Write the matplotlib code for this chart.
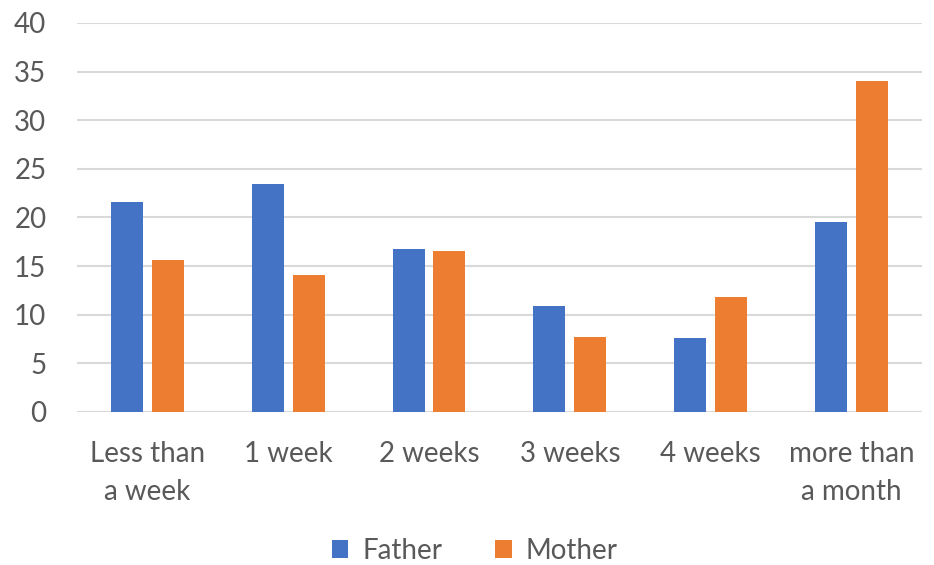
import matplotlib.pyplot as plt
import numpy as np

# Share of responses by duration, per parent
categories = ['Less than\na week', '1 week', '2 weeks', '3 weeks', '4 weeks', 'more than\na month']
father = [21.6, 23.4, 16.8, 10.9, 7.6, 19.5]
mother = [15.6, 14.1, 16.6, 7.7, 11.8, 34.0]
yticks = [0, 5, 10, 15, 20, 25, 30, 35, 40]

plt.rcParams['font.family'] = ['Lato', 'DejaVu Sans']
text_color = '#595959'

fig = plt.figure(figsize=(9.34, 5.65), dpi=100)
ax = fig.add_axes([0.0824, 0.2708, 0.9046, 0.6885])

x = np.arange(len(categories))
width = 0.227
offset = 0.145
ax.bar(x - offset, father, width, color='#4472C4', label='Father', zorder=3)
ax.bar(x + offset, mother, width, color='#ED7D31', label='Mother', zorder=3)

ax.set_xlim(-0.5, len(categories) - 0.5)
ax.set_ylim(0, 40)
ax.set_yticks(yticks)
ax.set_xticks(x)
ax.set_xticklabels(categories, fontsize=20, color=text_color, linespacing=1.55)
ax.tick_params(axis='y', labelsize=20, labelcolor=text_color, length=0, pad=22)
ax.tick_params(axis='x', length=0, pad=21)
ax.grid(axis='y', color='#D9D9D9', linewidth=1.5, zorder=0)
for side in ['top', 'right', 'left', 'bottom']:
    ax.spines[side].set_visible(False)
ax.axhline(0, color='#D9D9D9', linewidth=1.5, zorder=1)

fig.legend(loc='lower center', bbox_to_anchor=(0.508, -0.042), ncol=2, frameon=False,
           fontsize=20, labelcolor=text_color, handlelength=0.6, handleheight=0.6,
           handletextpad=0.5, columnspacing=1.9)

plt.savefig('out.png', dpi=100)
plt.close()
